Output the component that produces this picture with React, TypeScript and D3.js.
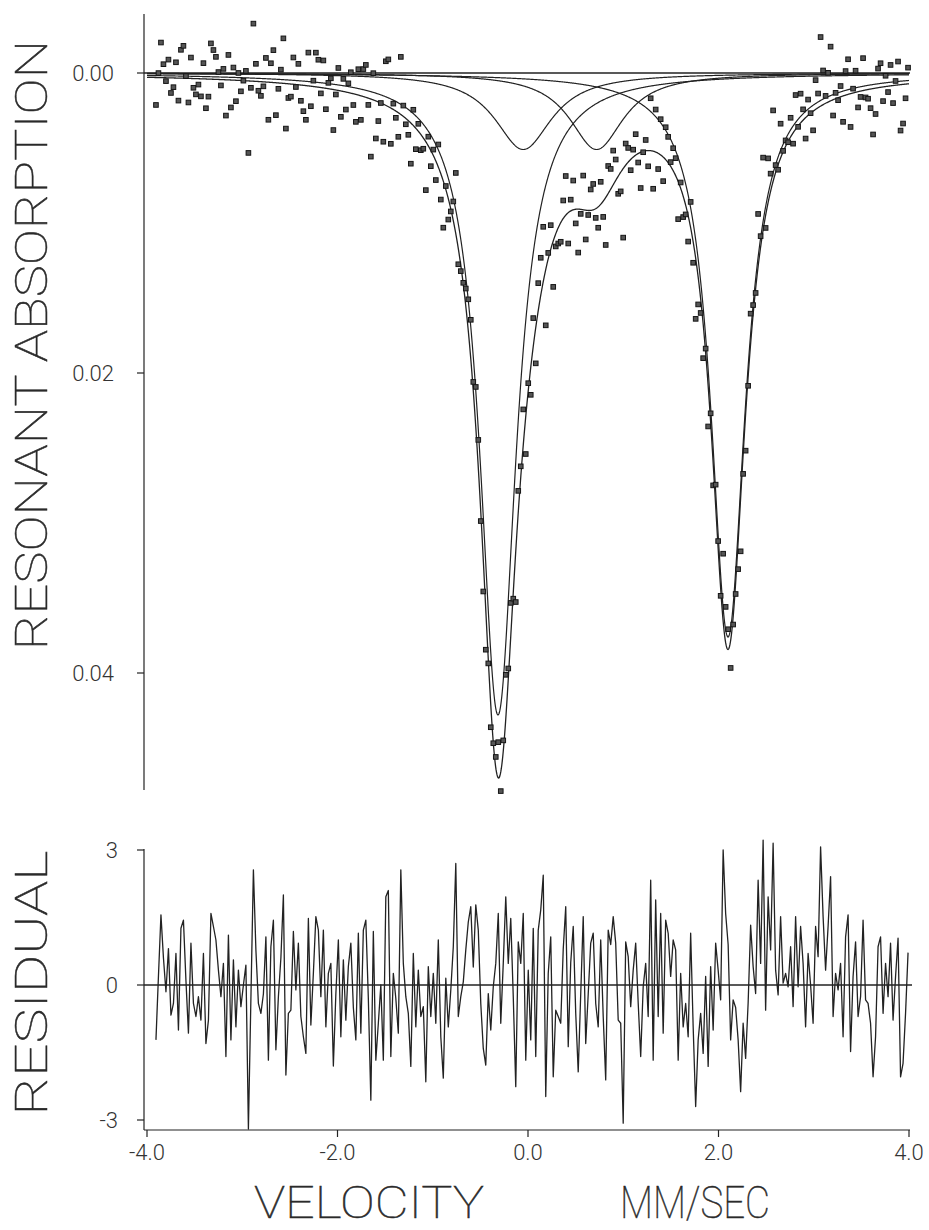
import React from 'react';
import * as d3 from 'd3';

const W = 929;
const H = 1230;

// fitted Lorentzian lines: centre (mm/s), depth (absorption), half width at half maximum (mm/s)
const lineCentres = [-0.315, -0.05, 0.72, 2.1];
const lineDepths = [0.0428, 0.0051, 0.0051, 0.0376];
const lineHalfWidths = [0.231, 0.367, 0.346, 0.22];

// channel velocities run evenly between these two values
const velocityStart = -3.906;
const velocityEnd = 3.99;
// one standard deviation of a point, in absorption units
const sigma = 0.0015;

// normalised residual of each channel
const residuals = [
  -1.22, 0.2, 1.56, 0.6, -0.15, 0.81, -0.67, -0.41, 0.7, -1.0,
  1.26, 1.44, 0.1, -1.07, 0.93, -0.41, -0.7, -0.26, -0.78, 0.7,
  -1.3, -0.78, 1.59, 1.3, 1.0, 0.33, -0.26, 0.48, -1.59, 1.11,
  -1.22, 0.56, -0.93, 0.33, -0.48, 0.0, 0.44, -3.2, -0.3, 2.56,
  0.78, -0.41, -0.63, -0.2, 1.07, -1.67, 0.85, 1.44, -1.44, -0.26,
  0.6, 2.0, -2.0, -0.63, -0.56, 1.19, -0.11, 0.93, -0.7, -1.15,
  -1.52, 1.48, -0.89, 0.26, 1.52, 1.22, -0.26, 1.22, -0.93, 0.26,
  0.48, -1.8, -0.2, 1.0, -1.15, 0.56, -0.78, 0.41, 0.93, -0.5,
  -1.22, 1.15, -1.07, 1.22, 1.44, -0.3, -2.56, 1.19, -1.67, -0.85,
  0.0, -1.67, 1.96, 2.1, -1.59, 0.26, -0.3, -1.07, 2.56, 0.48,
  -0.26, -0.63, -1.81, 0.7, -0.93, 0.33, -0.7, -0.48, -2.15, 0.41,
  -0.7, 0.26, -0.85, 1.0, -1.15, -2.07, 0.15, -0.93, -0.11, 0.85,
  2.7, -0.7, -0.26, 0.07, 0.78, 1.4, 1.74, 0.4, 1.78, 1.22,
  -0.41, -1.41, -1.78, -0.19, -1.0, -0.04, 0.48, 1.59, -0.85, 0.48,
  1.96, 0.48, 1.48, -0.26, -2.26, 0.96, 0.48, 1.59, -1.67, 0.33,
  -1.22, 1.26, -1.59, 1.22, 1.67, 2.44, -2.48, 0.26, 1.07, -2.04,
  -0.56, -0.7, -0.85, 0.8, 1.74, -1.37, 0.5, 1.3, -0.63, -1.93,
  -0.2, 1.52, -1.3, -0.2, 0.93, 1.15, -0.41, -0.93, 1.0, -0.7,
  -2.11, 1.22, 0.9, 1.52, 0.93, -0.78, -0.85, -3.07, 0.96, 0.63,
  -0.48, 0.33, 0.93, -0.4, -1.59, -0.04, 0.48, -0.7, 2.33, -1.67,
  1.89, -0.7, 1.59, -1.07, 1.44, 1.15, 0.19, 1.0, 0.78, -1.67,
  0.26, -0.93, -0.41, -1.15, 1.15, -0.93, -2.7, -1.22, -0.63, -1.52,
  0.19, -1.81, 0.41, -1.0, 0.93, 0.33, -0.33, 3.0, 1.59, 0.9,
  -1.22, -0.33, -0.5, -1.22, -2.37, -0.85, -1.63, -0.4, 1.33, 0.41,
  -0.19, 2.33, 0.48, 3.22, -0.56, 1.96, 0.78, 3.15, 0.33, -0.22,
  1.52, 0.04, 0.26, -0.04, 0.85, -0.48, 1.52, -0.04, 1.3, 0.48,
  -0.93, 0.7, 0.0, -0.85, 1.3, 0.63, 3.07, 1.52, 0.33, 1.3,
  2.41, -0.7, 0.26, -0.11, 0.48, -1.15, 1.07, 1.56, -1.48, 0.19,
  0.96, -0.7, -0.26, 1.44, -0.33, -0.41, -0.85, -2.04, -1.15, 0.85,
  1.07, -0.63, 0.48, -0.26, 0.93, -0.78, 0.19, 1.04, -2.04, -1.74,
  -0.63, 0.72,
];

const absorptionTicks = [0, 0.02, 0.04];
const absorptionTickLabels = ['0.00', '0.02', '0.04'];
const residualTicks = [3, 0, -3];
const velocityTicks = [-4, -2, 0, 2, 4];
const velocityTickLabels = ['-4.0', '-2.0', '0.0', '2.0', '4.0'];

const ink = '#222';
const font = "Roboto, 'DejaVu Sans', sans-serif";

const lorentz = (i: number, v: number) =>
  lineDepths[i] / (1 + ((v - lineCentres[i]) / lineHalfWidths[i]) ** 2);
const total = (v: number) => lineCentres.reduce((s, _c, i) => s + lorentz(i, v), 0);

export default function App() {
  const x = d3.scaleLinear().domain([-4, 4]).range([147, 909]);
  const yAbs = d3.scaleLinear().domain([0, 0.04]).range([73, 673]);
  const yRes = d3.scaleLinear().domain([-3, 3]).range([1120, 850]);

  const n = residuals.length;
  const channelV = d3.range(n).map(k => velocityStart + (k * (velocityEnd - velocityStart)) / (n - 1));
  const points = channelV.map((v, k) => ({ v, a: total(v) - residuals[k] * sigma }));

  const grid = d3.range(0, 1601).map(i => -4 + i * 0.005);
  const fitLine = (f: (v: number) => number) =>
    d3.line<number>().x(v => x(v)).y(v => yAbs(f(v)))(grid) || '';

  const residualPath =
    d3.line<number>().x((_r, k) => x(channelV[k])).y(r => yRes(r))(residuals) || '';

  const titleProps = {
    fontFamily: font,
    fontWeight: 100,
    fill: '#2a2a2a',
    stroke: '#2a2a2a',
    strokeWidth: 0.5,
    lengthAdjust: 'spacingAndGlyphs',
  } as const;

  return (
    <svg width={W} height={H} style={{ position: 'absolute', left: 0, top: 0, background: '#fff' }}>
      {/* upper panel axis */}
      <line x1={144} x2={144} y1={14} y2={790} stroke={ink} strokeWidth={1.2} />
      {absorptionTicks.map((t, i) => (
        <g key={t}>
          <line x1={137} x2={144} y1={yAbs(t)} y2={yAbs(t)} stroke={ink} strokeWidth={1.2} />
          <text x={114} y={yAbs(t) + 8} textAnchor="end" fontFamily={font} fontWeight={300}
            fontSize={22} fill="#333">{absorptionTickLabels[i]}</text>
        </g>
      ))}
      <line x1={144} x2={910} y1={yAbs(0)} y2={yAbs(0)} stroke={ink} strokeWidth={1.3} />

      {/* fitted components and their sum */}
      {lineCentres.map((_c, i) => (
        <path key={i} d={fitLine(v => lorentz(i, v))} fill="none" stroke={ink} strokeWidth={1.2} />
      ))}
      <path d={fitLine(total)} fill="none" stroke={ink} strokeWidth={1.3} />

      {/* measured points */}
      {points.map((p, k) => (
        <rect key={k} x={x(p.v) - 2.3} y={yAbs(p.a) - 2.3} width={4.6} height={4.6}
          fill="#555" stroke="#151515" strokeWidth={1} />
      ))}

      {/* lower panel */}
      <line x1={144} x2={144} y1={849} y2={1130} stroke={ink} strokeWidth={1.2} />
      {residualTicks.map(t => (
        <g key={t}>
          <line x1={137} x2={144} y1={yRes(t)} y2={yRes(t)} stroke={ink} strokeWidth={1.2} />
          <text x={118} y={yRes(t) + 8} textAnchor="end" fontFamily={font} fontWeight={300}
            fontSize={22} fill="#333">{t}</text>
        </g>
      ))}
      <line x1={144} x2={912} y1={yRes(0)} y2={yRes(0)} stroke={ink} strokeWidth={1.3} />
      <path d={residualPath} fill="none" stroke={ink} strokeWidth={1.3} strokeLinejoin="round" />

      <line x1={144} x2={910} y1={1130} y2={1130} stroke={ink} strokeWidth={1.2} />
      {velocityTicks.map((t, i) => (
        <g key={t}>
          <line x1={x(t)} x2={x(t)} y1={1130} y2={1137} stroke={ink} strokeWidth={1.2} />
          <text x={x(t)} y={1160} textAnchor="middle" fontFamily={font} fontWeight={300}
            fontSize={22} fill="#333">{velocityTickLabels[i]}</text>
        </g>
      ))}

      {/* axis titles */}
      <text transform="translate(47,345) rotate(-90)" textAnchor="middle" fontSize={44}
        textLength={610} {...titleProps}>
        RESONANT ABSORPTION
      </text>
      <text transform="translate(47,983) rotate(-90)" textAnchor="middle" fontSize={44}
        textLength={265} {...titleProps}>
        RESIDUAL
      </text>
      <text x={254} y={1218} fontSize={44} textLength={230} {...titleProps}>VELOCITY</text>
      <text x={620} y={1218} fontSize={44} textLength={150} {...titleProps}>MM/SEC</text>
    </svg>
  );
}
